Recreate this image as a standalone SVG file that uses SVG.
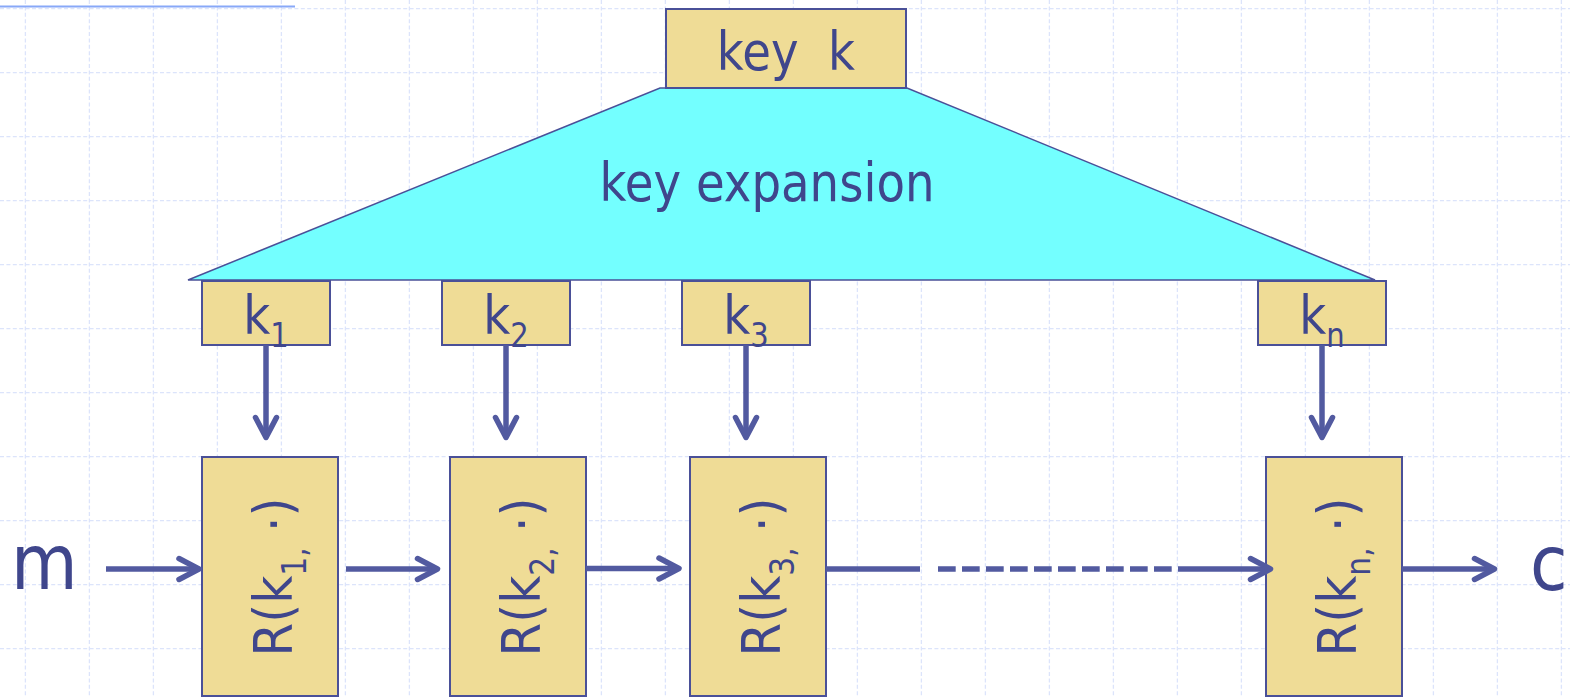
<svg xmlns="http://www.w3.org/2000/svg" width="1570" height="697" viewBox="0 0 1570 697">
<defs>
<style>
.grid line{stroke:#dce4fb;stroke-width:1.3;stroke-dasharray:4 2.4}
.box{fill:#efdc96;stroke:#4a5098;stroke-width:2}
.trap{fill:#73ffff;stroke:#4a5098;stroke-width:1.5}
.t{font-family:"DejaVu Sans","Verdana",sans-serif;fill:#3f468c}
.arr{stroke:#525aa0;stroke-width:5.5;fill:none}
.ah{marker-end:url(#head)}
</style>
<marker id="head" markerUnits="userSpaceOnUse" markerWidth="50" markerHeight="50" viewBox="-25 -25 50 50" refX="-3" refY="0" orient="auto">
<path d="M-20,-10.5 L0,0 L-20,10.5" fill="none" stroke="#525aa0" stroke-width="5.5" stroke-linecap="round" stroke-linejoin="round"/>
</marker>
</defs>
<rect width="1570" height="697" fill="#ffffff"/>
<g class="grid">
<line x1="0" y1="8.7" x2="1570" y2="8.7"/>
<line x1="0" y1="72.7" x2="1570" y2="72.7"/>
<line x1="0" y1="136.7" x2="1570" y2="136.7"/>
<line x1="0" y1="200.7" x2="1570" y2="200.7"/>
<line x1="0" y1="264.7" x2="1570" y2="264.7"/>
<line x1="0" y1="328.7" x2="1570" y2="328.7"/>
<line x1="0" y1="392.7" x2="1570" y2="392.7"/>
<line x1="0" y1="456.7" x2="1570" y2="456.7"/>
<line x1="0" y1="520.7" x2="1570" y2="520.7"/>
<line x1="0" y1="584.7" x2="1570" y2="584.7"/>
<line x1="0" y1="648.7" x2="1570" y2="648.7"/>
<line x1="25.4" y1="0" x2="25.4" y2="697"/>
<line x1="89.4" y1="0" x2="89.4" y2="697"/>
<line x1="153.4" y1="0" x2="153.4" y2="697"/>
<line x1="217.4" y1="0" x2="217.4" y2="697"/>
<line x1="281.4" y1="0" x2="281.4" y2="697"/>
<line x1="345.4" y1="0" x2="345.4" y2="697"/>
<line x1="409.4" y1="0" x2="409.4" y2="697"/>
<line x1="473.4" y1="0" x2="473.4" y2="697"/>
<line x1="537.4" y1="0" x2="537.4" y2="697"/>
<line x1="601.4" y1="0" x2="601.4" y2="697"/>
<line x1="665.4" y1="0" x2="665.4" y2="697"/>
<line x1="729.4" y1="0" x2="729.4" y2="697"/>
<line x1="793.4" y1="0" x2="793.4" y2="697"/>
<line x1="857.4" y1="0" x2="857.4" y2="697"/>
<line x1="921.4" y1="0" x2="921.4" y2="697"/>
<line x1="985.4" y1="0" x2="985.4" y2="697"/>
<line x1="1049.4" y1="0" x2="1049.4" y2="697"/>
<line x1="1113.4" y1="0" x2="1113.4" y2="697"/>
<line x1="1177.4" y1="0" x2="1177.4" y2="697"/>
<line x1="1241.4" y1="0" x2="1241.4" y2="697"/>
<line x1="1305.4" y1="0" x2="1305.4" y2="697"/>
<line x1="1369.4" y1="0" x2="1369.4" y2="697"/>
<line x1="1433.4" y1="0" x2="1433.4" y2="697"/>
<line x1="1497.4" y1="0" x2="1497.4" y2="697"/>
<line x1="1561.4" y1="0" x2="1561.4" y2="697"/>
</g>
<line x1="0" y1="6.5" x2="295" y2="6.5" stroke="#88a8f8" stroke-width="1.8"/>

<g id="key-expansion">
<polygon class="trap" points="660,88 907,88 1375,280 188,280"/>
<text class="t" font-size="53" text-anchor="middle" transform="translate(767,201) scale(0.88,1)">key expansion</text>
</g>
<g id="key-k">
<rect class="box" x="666" y="9" width="240" height="79"/>
<text class="t" font-size="53" text-anchor="middle" transform="translate(786,70) scale(0.88,1)" xml:space="preserve">key  k</text>
</g>

<g id="k1">
<rect class="box" x="202" y="281" width="128" height="64"/>
<text class="t" font-size="53" text-anchor="middle" transform="translate(266,334) scale(0.88,1)">k<tspan font-size="33" dy="13">1</tspan></text>
</g>
<g id="k2">
<rect class="box" x="442" y="281" width="128" height="64"/>
<text class="t" font-size="53" text-anchor="middle" transform="translate(506,334) scale(0.88,1)">k<tspan font-size="33" dy="13">2</tspan></text>
</g>
<g id="k3">
<rect class="box" x="682" y="281" width="128" height="64"/>
<text class="t" font-size="53" text-anchor="middle" transform="translate(746,334) scale(0.88,1)">k<tspan font-size="33" dy="13">3</tspan></text>
</g>
<g id="kn">
<rect class="box" x="1258" y="281" width="128" height="64"/>
<text class="t" font-size="53" text-anchor="middle" transform="translate(1322,334) scale(0.88,1)">k<tspan font-size="33" dy="13">n</tspan></text>
</g>

<g id="R1">
<rect class="box" x="202" y="457" width="136" height="239"/>
<text class="t" font-size="54" text-anchor="middle" transform="translate(292,577) rotate(-90) scale(0.9,1)">R(k<tspan font-size="33" dy="14">1,</tspan><tspan dy="-14"> ·)</tspan></text>
</g>
<g id="R2">
<rect class="box" x="450" y="457" width="136" height="239"/>
<text class="t" font-size="54" text-anchor="middle" transform="translate(540,577) rotate(-90) scale(0.9,1)">R(k<tspan font-size="33" dy="14">2,</tspan><tspan dy="-14"> ·)</tspan></text>
</g>
<g id="R3">
<rect class="box" x="690" y="457" width="136" height="239"/>
<text class="t" font-size="54" text-anchor="middle" transform="translate(780,577) rotate(-90) scale(0.9,1)">R(k<tspan font-size="33" dy="14">3,</tspan><tspan dy="-14"> ·)</tspan></text>
</g>
<g id="Rn">
<rect class="box" x="1266" y="457" width="136" height="239"/>
<text class="t" font-size="54" text-anchor="middle" transform="translate(1356,577) rotate(-90) scale(0.9,1)">R(k<tspan font-size="33" dy="14">n,</tspan><tspan dy="-14"> ·)</tspan></text>
</g>

<g id="m">
<text class="t" font-size="76" transform="translate(11,589) scale(0.9,1)">m</text>
</g>
<g id="c">
<text class="t" font-size="76" transform="translate(1530,590) scale(0.9,1)">c</text>
</g>

<g id="connectors">
<line class="arr ah" x1="266" y1="345" x2="266" y2="434.5"/>
<line class="arr ah" x1="506" y1="345" x2="506" y2="434.5"/>
<line class="arr ah" x1="746" y1="345" x2="746" y2="434.5"/>
<line class="arr ah" x1="1322" y1="345" x2="1322" y2="434.5"/>
<line class="arr ah" x1="106" y1="569" x2="196" y2="569"/>
<line class="arr ah" x1="346" y1="569" x2="434.5" y2="569"/>
<line class="arr ah" x1="586" y1="568.5" x2="676" y2="568.5"/>
<line class="arr" x1="826" y1="569" x2="920" y2="569"/>
<line class="arr" x1="938" y1="569" x2="1172" y2="569" stroke-dasharray="17.7 6.3"/>
<line class="arr ah" x1="1178" y1="569" x2="1267.5" y2="569"/>
<line class="arr ah" x1="1402" y1="569" x2="1491.5" y2="569"/>
</g>
</svg>
